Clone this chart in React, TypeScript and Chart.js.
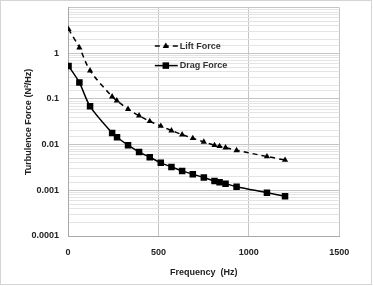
import React, { useEffect, useRef } from "react";
import { Chart, registerables } from "chart.js";

Chart.register(...registerables);

const liftFreq = [3, 63, 122, 244, 270, 332, 393, 452, 513, 572, 631, 690, 751, 810, 838, 871, 932, 1100, 1200];
const liftForce = [3.35, 1.33, 0.417, 0.112, 0.092, 0.06, 0.043, 0.0325, 0.0256, 0.0203, 0.0166, 0.0138, 0.0115, 0.0097, 0.0092, 0.0086, 0.0075, 0.0055, 0.0046];
const dragFreq = [3, 63, 122, 244, 271, 332, 393, 452, 513, 572, 631, 690, 751, 810, 838, 871, 932, 1100, 1200];
const dragForce = [0.527, 0.228, 0.069, 0.018, 0.0145, 0.0097, 0.0069, 0.0053, 0.004, 0.00325, 0.00266, 0.00225, 0.0019, 0.0016, 0.0015, 0.0014, 0.0012, 0.00089, 0.00074];

const xTicks = [0, 500, 1000, 1500];
const seriesNames = ["Lift Force", "Drag Force"];
const xTitle = "Frequency  (Hz)";
const yTitle = "Turbulence Force (N\u00B2/Hz)";

const FONT = "'Liberation Sans', Arial, sans-serif";

function isDecade(v: number) {
  const l = Math.log10(v);
  return Math.abs(l - Math.round(l)) < 1e-6;
}

const legendPlugin = {
  id: "insideLegend",
  afterDraw(chart: any) {
    const { ctx, chartArea } = chart;
    const ds = chart.data.datasets;
    const w = chartArea.right - chartArea.left;
    const x0 = chartArea.left + w * 0.32;
    const rows = [chartArea.top + 38.5, chartArea.top + 58];
    ds.forEach((d: any, i: number) => {
      const y = rows[i];
      ctx.save();
      ctx.strokeStyle = d.borderColor;
      ctx.lineWidth = d.borderWidth;
      ctx.setLineDash(d.borderDash || []);
      ctx.beginPath();
      ctx.moveTo(x0, y);
      ctx.lineTo(x0 + 23, y);
      ctx.stroke();
      ctx.setLineDash([]);
      ctx.fillStyle = d.pointBackgroundColor;
      const r = d.pointRadius;
      if (d.pointStyle === "triangle") {
        ctx.beginPath();
        ctx.moveTo(x0 + 11, y - r);
        ctx.lineTo(x0 + 11 + r * 0.866, y + r / 2);
        ctx.lineTo(x0 + 11 - r * 0.866, y + r / 2);
        ctx.closePath();
        ctx.fill();
      } else {
        const s = r * Math.SQRT1_2;
        ctx.fillRect(x0 + 11 - s, y - s, 2 * s, 2 * s);
      }
      ctx.fillStyle = "#333";
      ctx.font = `bold 9px ${FONT}`;
      ctx.textBaseline = "middle";
      ctx.textAlign = "left";
      ctx.fillText(d.label, x0 + 25, y);
      ctx.restore();
    });
  },
};

const framePlugin = {
  id: "frame",
  afterDraw(chart: any) {
    const { ctx } = chart;
    ctx.save();
    ctx.strokeStyle = "#d4d4d4";
    ctx.lineWidth = 1;
    ctx.strokeRect(0.5, 0.5, 371, 284);
    ctx.restore();
  },
};

export default function App() {
  const ref = useRef<HTMLCanvasElement>(null);
  useEffect(() => {
    if (!ref.current) return;
    const chart = new Chart(ref.current, {
      type: "line",
      data: {
        datasets: [
          {
            label: seriesNames[0],
            data: liftFreq.map((x, i) => ({ x, y: liftForce[i] })),
            borderColor: "#000",
            backgroundColor: "#000",
            pointBackgroundColor: "#000",
            borderWidth: 1.5,
            borderDash: [5, 4],
            pointStyle: "triangle",
            pointRadius: 3.6,
            pointBorderWidth: 0,
            tension: 0.3,
          },
          {
            label: seriesNames[1],
            data: dragFreq.map((x, i) => ({ x, y: dragForce[i] })),
            borderColor: "#000",
            backgroundColor: "#000",
            pointBackgroundColor: "#000",
            borderWidth: 1.5,
            pointStyle: "rect",
            pointRadius: 4.6,
            pointBorderWidth: 0,
            tension: 0.3,
          },
        ],
      },
      options: {
        animation: false,
        responsive: true,
        maintainAspectRatio: false,
        layout: { padding: { top: 7.6, right: 34.7, bottom: 0, left: 0 } },
        plugins: { legend: { display: false }, tooltip: { enabled: false } },
        scales: {
          x: {
            type: "linear",
            min: xTicks[0],
            max: xTicks[xTicks.length - 1],
            afterBuildTicks: (s: any) => {
              s.ticks = xTicks.map((v) => ({ value: v }));
            },
            afterFit: (s: any) => {
              s.height = 50;
              s.paddingLeft = 0;
              s.paddingRight = 0;
            },
            ticks: {
              padding: 11,
              color: "#222",
              font: { family: FONT, size: 9, weight: "bold" },
              maxRotation: 0,
              callback: (v: any) => String(v),
            },
            grid: { color: "#c4c4c4", drawTicks: false, lineWidth: 1 },
            border: { color: "#a8a8a8" },
            title: {
              display: true,
              text: xTitle,
              color: "#222",
              font: { family: FONT, size: 9, weight: "bold" },
              padding: { top: 0, bottom: 8.5 },
            },
          },
          y: {
            type: "logarithmic",
            min: 0.0001,
            max: 10,
            afterFit: (s: any) => {
              s.width = 68;
              s.paddingTop = 0;
              s.paddingBottom = 0;
            },
            ticks: {
              autoSkip: false,
              padding: 9,
              color: "#222",
              font: { family: FONT, size: 9, weight: "bold" },
              callback: (v: any) => {
                const n = Number(v);
                if (!isDecade(n) || n > 5) return "";
                const e = Math.round(Math.log10(n));
                return e < 0 ? n.toFixed(-e) : String(Math.round(n));
              },
            },
            grid: {
              drawTicks: false,
              color: (c: any) => (c.tick && isDecade(c.tick.value) ? "#c4c4c4" : "#e4e4e4"),
              lineWidth: 1,
            },
            border: { color: "#a8a8a8" },
            title: {
              display: true,
              text: yTitle,
              color: "#222",
              font: { family: FONT, size: 9, weight: "bold" },
              padding: { top: 23.5, bottom: 0 },
            },
          },
        },
      },
      plugins: [legendPlugin, framePlugin],
    } as any);
    return () => chart.destroy();
  }, []);
  return (
    <div style={{ position: "fixed", left: 0, top: 0, width: 374, height: 286, background: "#fff" }}>
      <canvas ref={ref} />
    </div>
  );
}
